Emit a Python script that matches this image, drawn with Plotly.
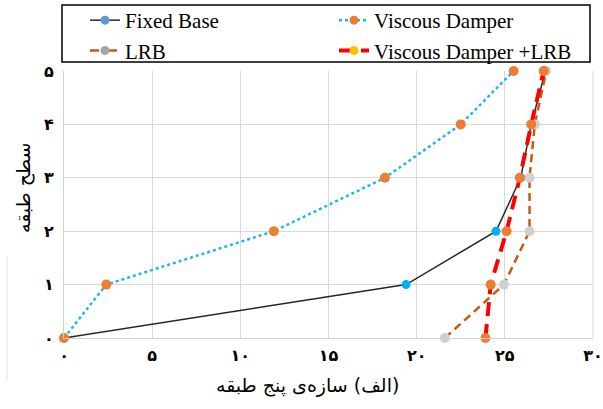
import plotly.graph_objects as go

levels = [0, 1, 2, 3, 4, 5]
fixed_base = [0, 19.4, 24.5, 25.9, 26.5, 27.3]
viscous_damper = [0, 2.4, 11.9, 18.2, 22.5, 25.5]
lrb = [21.6, 24.95, 26.4, 26.4, 26.7, 27.35]
vd_lrb = [23.9, 24.2, 25.1, 25.85, 26.5, 27.2]

x_tickvals = [0, 5, 10, 15, 20, 25, 30]
x_ticktext = ["۰", "۵", "۱۰", "۱۵", "۲۰", "۲۵", "۳۰"]
y_tickvals = [0, 1, 2, 3, 4, 5]
y_ticktext = ["۰", "۱", "۲", "۳", "۴", "۵"]

x_title = "\u202b(الف) سازه‌ی پنج طبقه\u202c"
y_title = "\u202bسطح طبقه\u202c"

W, H = 603, 409
ML, MR, MT, MB = 64, 10, 71, 71
PW, PH = W - ML - MR, H - MT - MB

fig = go.Figure()

series = [
    dict(name="Fixed Base", x=fixed_base, line=dict(color="#262626", width=1.5),
         marker=dict(color="#00b0f0", size=9), legmarker="#5b9bd5"),
    dict(name="Viscous Damper", x=viscous_damper,
         line=dict(color="#1fb5f0", width=2.5, dash="dot"),
         marker=dict(color="#ed7d31", size=10), legmarker="#ed7d31"),
    dict(name="LRB", x=lrb, line=dict(color="#c55a11", width=2.5, dash="8px,5px"),
         marker=dict(color="#d0d0d0", size=10), legmarker="#a5a5a5"),
    dict(name="Viscous Damper +LRB", x=vd_lrb,
         line=dict(color="#ff0000", width=4, dash="14px,8px"),
         marker=dict(color="#ed7d31", size=10), legmarker="#ffc000"),
]

for s in series:
    fig.add_trace(go.Scatter(x=s["x"], y=levels, mode="lines+markers", name=s["name"],
                             line=s["line"], marker=s["marker"], showlegend=False,
                             cliponaxis=False))

for s in series:
    lg_line = dict(s["line"])
    if s["name"] == "LRB":
        lg_line["dash"] = "dashdot"
    fig.add_trace(go.Scatter(x=[None], y=[None], mode="lines+markers", name=s["name"],
                             line=lg_line, marker=dict(color=s["legmarker"], size=9)))

fig.update_layout(
    width=W, height=H,
    margin=dict(l=ML, r=MR, t=MT, b=MB, autoexpand=False),
    paper_bgcolor="white", plot_bgcolor="white",
    showlegend=True,
    legend=dict(orientation="h", xref="paper", yref="paper",
                x=(85 - ML) / PW, y=1 + (MT - 0) / PH, xanchor="left", yanchor="top",
                entrywidth=204, entrywidthmode="pixels",
                font=dict(family="Liberation Serif", size=21, color="black"),
                bgcolor="rgba(0,0,0,0)", borderwidth=0, tracegroupgap=0),
    xaxis=dict(range=[0, 30], tickvals=x_tickvals, ticktext=x_ticktext,
               showgrid=True, gridcolor="#d9d9d9", gridwidth=1,
               showline=True, linecolor="#d0d0d0", linewidth=1, zeroline=False,
               ticks="", ticklabelstandoff=3, ticklabeloverflow="allow",
               tickfont=dict(family="DejaVu Sans", size=16, color="black", weight="bold")),
    yaxis=dict(range=[0, 5], tickvals=y_tickvals, ticktext=y_ticktext,
               showgrid=True, gridcolor="#d9d9d9", gridwidth=1,
               showline=True, linecolor="#d0d0d0", linewidth=1, zeroline=False,
               ticks="", ticklabelstandoff=6, ticklabeloverflow="allow",
               tickfont=dict(family="DejaVu Sans", size=16, color="black", weight="bold")),
    shapes=[
        dict(type="rect", xref="paper", yref="paper",
             x0=(62 - ML) / PW, x1=(590 - ML) / PW,
             y0=1 + (MT - 62) / PH, y1=1 + (MT - 5) / PH,
             line=dict(color="black", width=1.5), fillcolor="rgba(0,0,0,0)"),
        dict(type="line", xref="paper", yref="paper",
             x0=1, x1=1, y0=0, y1=1,
             line=dict(color="#d9d9d9", width=1), layer="below"),
        dict(type="line", xref="paper", yref="paper",
             x0=(7 - ML) / PW, x1=(7 - ML) / PW,
             y0=1 - (380 - MT) / PH, y1=1 - (257 - MT) / PH,
             line=dict(color="#e0e0e0", width=1)),
    ],
    annotations=[
        dict(text=x_title, xref="paper", yref="paper",
             x=(307 - ML) / PW, y=1 - (385 - MT) / PH, showarrow=False,
             xanchor="center", yanchor="middle",
             font=dict(family="DejaVu Sans", size=19, color="black")),
        dict(text=y_title, xref="paper", yref="paper",
             x=(23 - ML) / PW, y=1 - (188 - MT) / PH, showarrow=False,
             xanchor="center", yanchor="middle", textangle=-90,
             font=dict(family="DejaVu Sans", size=19, color="black")),
    ],
)

fig.write_html("out.html")
